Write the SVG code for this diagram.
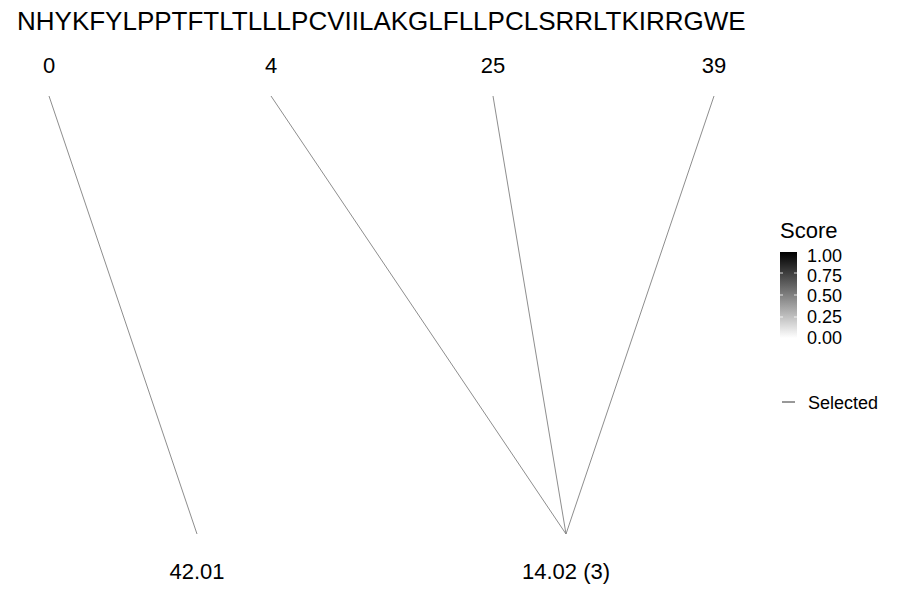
<svg xmlns="http://www.w3.org/2000/svg" width="900" height="600" viewBox="0 0 900 600">
<style>
text{font-family:"Liberation Sans",Arial,sans-serif;fill:#000}
.t{font-size:26px}
.n{font-size:22px;text-anchor:middle}
.l{font-size:18px}
.e{stroke:#808080;stroke-width:0.9;fill:none}
</style>
<defs>
<linearGradient id="g" x1="0" y1="1" x2="0" y2="0">
<stop offset="0" stop-color="#ffffff"/>
<stop offset="1" stop-color="#000000"/>
</linearGradient>
</defs>
<rect width="900" height="600" fill="#fff"/>
<text class="t" x="17" y="30">NHYKFYLPPTFTLTLLLPCVIILAKGLFLLPCLSRRLTKIRRGWE</text>
<g id="top-nodes">
<g id="n0"><text class="n" x="49" y="73">0</text></g>
<g id="n4"><text class="n" x="271" y="73">4</text></g>
<g id="n25"><text class="n" x="493" y="73">25</text></g>
<g id="n39"><text class="n" x="714" y="73">39</text></g>
</g>
<g id="bottom-nodes">
<g id="b1"><text class="n" x="197" y="579">42.01</text></g>
<g id="b2"><text class="n" x="566" y="579">14.02 (3)</text></g>
</g>
<g id="connectors">
<line class="e" x1="49" y1="96" x2="197" y2="534"/>
<line class="e" x1="271" y1="96" x2="566" y2="534"/>
<line class="e" x1="493" y1="96" x2="566" y2="534"/>
<line class="e" x1="714" y1="96" x2="566" y2="534"/>
</g>
<g id="legend">
<text x="780" y="238" style="font-size:22px">Score</text>
<rect x="780" y="252" width="17" height="86" fill="url(#g)"/>
<g stroke="#fff" stroke-width="0.8">
<line x1="780" y1="273" x2="783" y2="273"/><line x1="794" y1="273" x2="797" y2="273"/>
<line x1="780" y1="295" x2="783" y2="295"/><line x1="794" y1="295" x2="797" y2="295"/>
<line x1="780" y1="317" x2="783" y2="317"/><line x1="794" y1="317" x2="797" y2="317"/>
</g>
<text class="l" x="807" y="262">1.00</text>
<text class="l" x="807" y="282">0.75</text>
<text class="l" x="807" y="302">0.50</text>
<text class="l" x="807" y="323">0.25</text>
<text class="l" x="807" y="344">0.00</text>
<line x1="782" y1="402" x2="795" y2="402" stroke="#333" stroke-width="1"/>
<text class="l" x="808" y="409">Selected</text>
</g>
</svg>
